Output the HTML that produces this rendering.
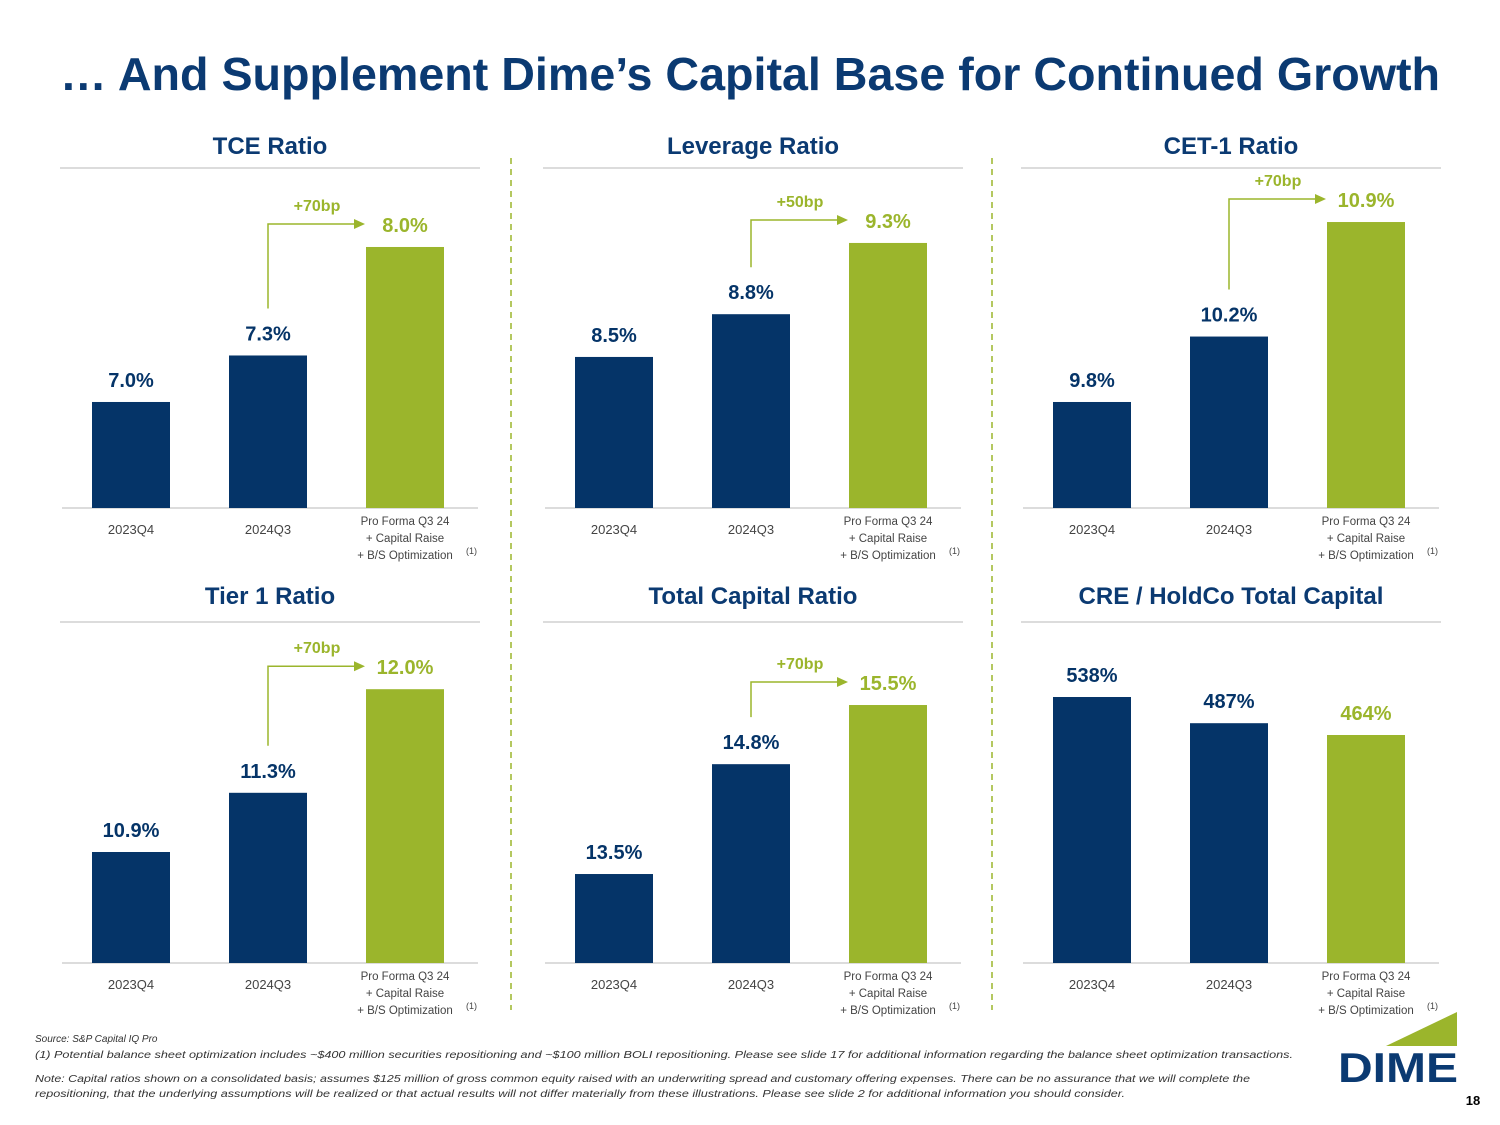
<!DOCTYPE html>
<html><head><meta charset="utf-8">
<style>
html,body{margin:0;padding:0;background:#fff;}
svg{display:block;font-family:"Liberation Sans",sans-serif;}
</style></head>
<body>
<svg id="s" width="1500" height="1125" viewBox="0 0 1500 1125">
<text x="750" y="90" text-anchor="middle" font-size="46" font-weight="bold" fill="#0b3a72" textLength="1380" lengthAdjust="spacingAndGlyphs">… And Supplement Dime’s Capital Base for Continued Growth</text>
<line x1="511" y1="158" x2="511" y2="1010" stroke="#9bb52c" stroke-width="1.5" stroke-dasharray="6,5"/>
<line x1="992" y1="158" x2="992" y2="1010" stroke="#9bb52c" stroke-width="1.5" stroke-dasharray="6,5"/>
<g id="charts"></g>
<text x="35" y="1042" font-size="10" font-style="italic" fill="#333">Source: S&amp;P Capital IQ Pro</text>
<text x="35" y="1058" font-size="10" font-style="italic" fill="#333" textLength="1258" lengthAdjust="spacingAndGlyphs">(1)      Potential balance sheet optimization includes ~$400 million securities repositioning and ~$100 million BOLI repositioning. Please see slide 17 for additional information regarding the balance sheet optimization transactions.</text>
<text x="35" y="1082" font-size="10" font-style="italic" fill="#333" textLength="1215" lengthAdjust="spacingAndGlyphs">Note: Capital ratios shown on a consolidated basis; assumes $125 million of gross common equity raised with an underwriting spread and customary offering expenses. There can be no assurance that we will complete the</text>
<text x="35" y="1097" font-size="10" font-style="italic" fill="#333" textLength="1090" lengthAdjust="spacingAndGlyphs">repositioning, that the underlying assumptions will be realized or that actual results will not differ materially from these illustrations. Please see slide 2 for additional information you should consider.</text>
<g>
<polygon points="1457,1012 1457,1046 1386,1046" fill="#9bb52c"/>
<text x="1398" y="1082" text-anchor="middle" font-size="42" font-weight="bold" fill="#0b3a72" textLength="120" lengthAdjust="spacingAndGlyphs">DIME</text>
</g>
<text x="1473" y="1105" text-anchor="middle" font-size="13" font-weight="bold" fill="#000">18</text>
</svg>
<script>
const categories = ["2023Q4", "2024Q3", "Pro Forma"];
const titles = ["TCE Ratio", "Leverage Ratio", "CET-1 Ratio", "Tier 1 Ratio", "Total Capital Ratio", "CRE / HoldCo Total Capital"];
const tceValues = [7.0, 7.3, 8.0];
const leverageValues = [8.5, 8.8, 9.3];
const cet1Values = [9.8, 10.2, 10.9];
const tier1Values = [10.9, 11.3, 12.0];
const totalCapValues = [13.5, 14.8, 15.5];
const creValues = [538, 487, 464];
const deltaLabels = ["+70bp", "+50bp", "+70bp", "+70bp", "+70bp", null];
const valueLabels = [
  ["7.0%","7.3%","8.0%"],["8.5%","8.8%","9.3%"],["9.8%","10.2%","10.9%"],
  ["10.9%","11.3%","12.0%"],["13.5%","14.8%","15.5%"],["538%","487%","464%"]];
const domainMins = [6.316, 7.44, 9.152, 10.15, 12.447, 20];
const domainScales = [155, 142.5, 163.6, 148, 84.5, 0.5135];

const allValues = [tceValues, leverageValues, cet1Values, tier1Values, totalCapValues, creValues];
const NAVY = "#053468", GREEN = "#9bb52c";
const NS = "http://www.w3.org/2000/svg";
const root = document.getElementById("charts");
function mk(tag, attrs, parent, txt){
  const e = document.createElementNS(NS, tag);
  for (const k in attrs) e.setAttribute(k, attrs[k]);
  if (txt != null) e.textContent = txt;
  parent.appendChild(e);
  return e;
}
const colX = [60, 543, 1021];
const rowTitleY = [146, 596], rowLineY = [168, 622], rowBase = [508, 963];
allValues.forEach((vals, ci) => {
  const col = ci % 3, row = Math.floor(ci / 3);
  const x0 = colX[col], base = rowBase[row];
  const g = mk("g", {}, root);
  
  
  const t = mk("text", {x: x0 + 210, y: rowTitleY[row] + 8, "text-anchor": "middle", "font-size": 24, "font-weight": "bold", fill: "#0b3a72"}, g, titles[ci]);
  
  
  mk("line", {x1: x0, y1: rowLineY[row], x2: x0 + 420, y2: rowLineY[row], stroke: "#d0d0d0", "stroke-width": 1.5}, g);
  const ax = mk("line", {x1: x0 + 2, y1: base, x2: x0 + 418, y2: base, stroke: "#d0d0d0", "stroke-width": 1.5}, g);
  
  
  const yScale = v => base - (v - domainMins[ci]) * domainScales[ci];
  const xScale = i => x0 + 32 + i * 137;
  const tops = [];
  vals.forEach((v, i) => {
    const bx = xScale(i), top = yScale(v);
    tops.push(top);
    const color = i === 2 ? GREEN : NAVY;
    const r = mk("rect", {x: bx, y: top, width: 78, height: base - top, fill: color}, g);
    
    
    const lbl = mk("text", {x: bx + 39, y: top - 15, "text-anchor": "middle", "font-size": 20, "font-weight": "bold", fill: color}, g, valueLabels[ci][i]);
    
    
    if (i < 2) {
      const xl = mk("text", {x: bx + 39, y: base + 26, "text-anchor": "middle", "font-size": 13, fill: "#444"}, g, categories[i]);
      
      
    } else {
      const lines = ["Pro Forma Q3 24", "+ Capital Raise", "+ B/S Optimization"];
      lines.forEach((ln, li) => {
        const xl = mk("text", {x: bx + 39, y: base + 17 + li * 17, "text-anchor": "middle", "font-size": 11.5, fill: "#444"}, g, ln);
        
        
      });
      mk("text", {x: bx + 100, y: base + 46, "font-size": 9, fill: "#444"}, g, "(1)");
    }
  });
  if (deltaLabels[ci]) {
    const cx = xScale(1) + 39, ay = tops[2] - 23, vy = tops[1] - 47;
    const ar = mk("g", {}, g);
    
    
    mk("polyline", {points: `${cx},${vy} ${cx},${ay} ${xScale(2) - 10},${ay}`, fill: "none", stroke: GREEN, "stroke-width": 1.5}, ar);
    mk("polygon", {points: `${xScale(2) - 12},${ay - 5} ${xScale(2) - 1},${ay} ${xScale(2) - 12},${ay + 5}`, fill: GREEN}, ar);
    const dl = mk("text", {x: (cx + xScale(2)) / 2, y: ay - 13, "text-anchor": "middle", "font-size": 16, "font-weight": "bold", fill: GREEN}, g, deltaLabels[ci]);
    
    
  }
});
</script>
</body></html>
